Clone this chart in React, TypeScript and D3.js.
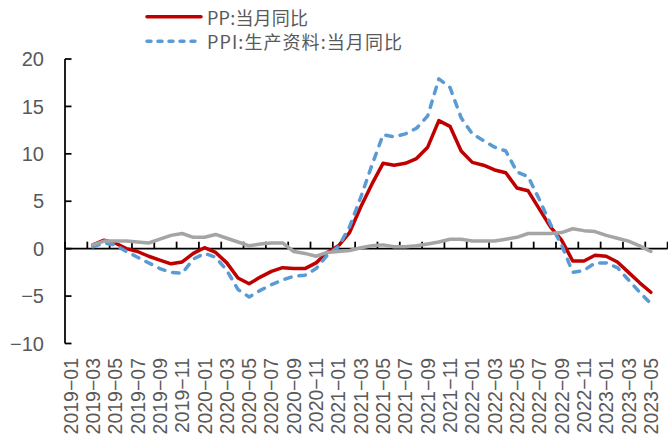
import React from "react";
import * as d3 from "d3";

const months: string[] = [
  "2019−01","2019−02","2019−03","2019−04","2019−05","2019−06","2019−07","2019−08","2019−09","2019−10","2019−11","2019−12",
  "2020−01","2020−02","2020−03","2020−04","2020−05","2020−06","2020−07","2020−08","2020−09","2020−10","2020−11","2020−12",
  "2021−01","2021−02","2021−03","2021−04","2021−05","2021−06","2021−07","2021−08","2021−09","2021−10","2021−11","2021−12",
  "2022−01","2022−02","2022−03","2022−04","2022−05","2022−06","2022−07","2022−08","2022−09","2022−10","2022−11","2022−12",
  "2023−01","2023−02","2023−03","2023−04","2023−05",
];

const ppSeries: (number | null)[] = [
  null, null, 0.4, 0.9, 0.6, 0.0, -0.3, -0.8, -1.2, -1.6, -1.4, -0.5,
  0.1, -0.4, -1.5, -3.1, -3.7, -3.0, -2.4, -2.0, -2.1, -2.1, -1.5, -0.4,
  0.3, 1.7, 4.4, 6.8, 9.0, 8.8, 9.0, 9.5, 10.7, 13.5, 12.9, 10.3,
  9.1, 8.8, 8.3, 8.0, 6.4, 6.1, 4.2, 2.3, 0.9, -1.3, -1.3, -0.7,
  -0.8, -1.4, -2.5, -3.6, -4.6,
];

const producerSeries: (number | null)[] = [
  null, null, 0.2, 0.6, 0.4, -0.3, -0.9, -1.5, -2.1, -2.5, -2.6, -1.1,
  -0.5, -0.9, -2.3, -4.3, -5.1, -4.4, -3.8, -3.3, -2.9, -2.8, -2.1, -0.7,
  0.2, 2.3, 5.4, 8.8, 12.0, 11.8, 12.1, 12.7, 14.0, 17.9, 17.0, 13.8,
  12.1, 11.4, 10.7, 10.3, 8.1, 7.6, 5.2, 2.6, 0.4, -2.5, -2.3, -1.5,
  -1.5, -2.0, -3.3, -4.6, -5.8,
];

const consumerSeries: (number | null)[] = [
  null, null, 0.4, 0.8, 0.8, 0.8, 0.7, 0.6, 1.0, 1.4, 1.6, 1.2,
  1.2, 1.5, 1.1, 0.7, 0.3, 0.5, 0.6, 0.6, -0.3, -0.5, -0.8, -0.4,
  -0.3, -0.2, 0.1, 0.3, 0.4, 0.2, 0.2, 0.3, 0.5, 0.7, 1.0, 1.0,
  0.8, 0.8, 0.8, 1.0, 1.2, 1.6, 1.6, 1.6, 1.7, 2.1, 1.9, 1.8,
  1.4, 1.1, 0.8, 0.3, -0.3,
];

const yTicks: number[] = [-10, -5, 0, 5, 10, 15, 20];
const legendLabels: string[] = ["PP:当月同比", "PPI:生产资料:当月同比"];

const W = 668;
const H = 446;
const TEXT = "#595959";
const LATIN = "'Liberation Sans', Arial, sans-serif";
const CJK = "'Noto Sans CJK SC', sans-serif";

export default function App() {
  const nSlots = months.length + 1;
  const x = d3.scaleBand<number>().domain(d3.range(nSlots)).range([65, 667.6]).padding(0);
  const bw = x.bandwidth();
  const cx = (i: number) => (x(i) as number) + bw / 2;
  const y = d3.scaleLinear().domain([-10, 20]).range([343.5, 59]);
  const y0 = y(0);

  const line = d3
    .line<number | null>()
    .defined((v) => v != null)
    .x((_, i) => cx(i))
    .y((v) => y(v as number));

  const tickSlots = d3.range(0, nSlots + 1, 2);
  const labelIdx = d3.range(0, months.length, 2);

  return (
    <svg width={W} height={H} style={{ position: "absolute", left: 0, top: 0, background: "#fff" }}>
      {/* Legend */}
      <line x1={147} x2={201} y1={16.7} y2={16.7} stroke="#C00000" strokeWidth={3.5} strokeLinecap="round" />
      <text x={207} y={24.5} fontSize={18} fill={TEXT} fontFamily={CJK} textLength={101} lengthAdjust="spacing">
        {legendLabels[0]}
      </text>
      <line x1={147} x2={201} y1={41.3} y2={41.3} stroke="#5B9BD5" strokeWidth={3.5} strokeLinecap="round" strokeDasharray="4 7" />
      <text x={207} y={49} fontSize={18} fill={TEXT} fontFamily={CJK} textLength={195} lengthAdjust="spacing">
        {legendLabels[1]}
      </text>

      {/* Y axis */}
      <line x1={65} x2={65} y1={y(20)} y2={y(-10)} stroke="#000" strokeWidth={1.75} />
      {yTicks.map((t) => (
        <g key={t}>
          <line x1={65} x2={71.5} y1={y(t)} y2={y(t)} stroke="#000" strokeWidth={1.75} />
          <text x={44} y={y(t)} dy="0.36em" textAnchor="end" fontSize={20} fill={TEXT} fontFamily={LATIN}>
            {t < 0 ? "−" + Math.abs(t) : String(t)}
          </text>
        </g>
      ))}

      {/* X axis */}
      <line x1={65} x2={667.6} y1={y0} y2={y0} stroke="#000" strokeWidth={1.75} />
      {tickSlots.map((k) => {
        const xx = 65 + k * bw;
        return <line key={k} x1={xx} x2={xx} y1={y0} y2={y0 - 7} stroke="#000" strokeWidth={1.75} />;
      })}
      {labelIdx.map((i) => (
        <text
          key={i}
          transform={`translate(${cx(i)},358) rotate(-90)`}
          dy="0.36em"
          textAnchor="end"
          fontSize={19.5}
          fill={TEXT}
          fontFamily={LATIN}
        >
          {months[i]}
        </text>
      ))}

      {/* Series */}
      <path d={line(ppSeries) || ""} fill="none" stroke="#C00000" strokeWidth={3.5} strokeLinejoin="round" strokeLinecap="round" />
      <path
        d={line(producerSeries) || ""}
        fill="none"
        stroke="#5B9BD5"
        strokeWidth={3.5}
        strokeLinejoin="round"
        strokeLinecap="round"
        strokeDasharray="6.5 8"
      />
      <path d={line(consumerSeries) || ""} fill="none" stroke="#A5A5A5" strokeWidth={3.5} strokeLinejoin="round" strokeLinecap="round" />
    </svg>
  );
}
